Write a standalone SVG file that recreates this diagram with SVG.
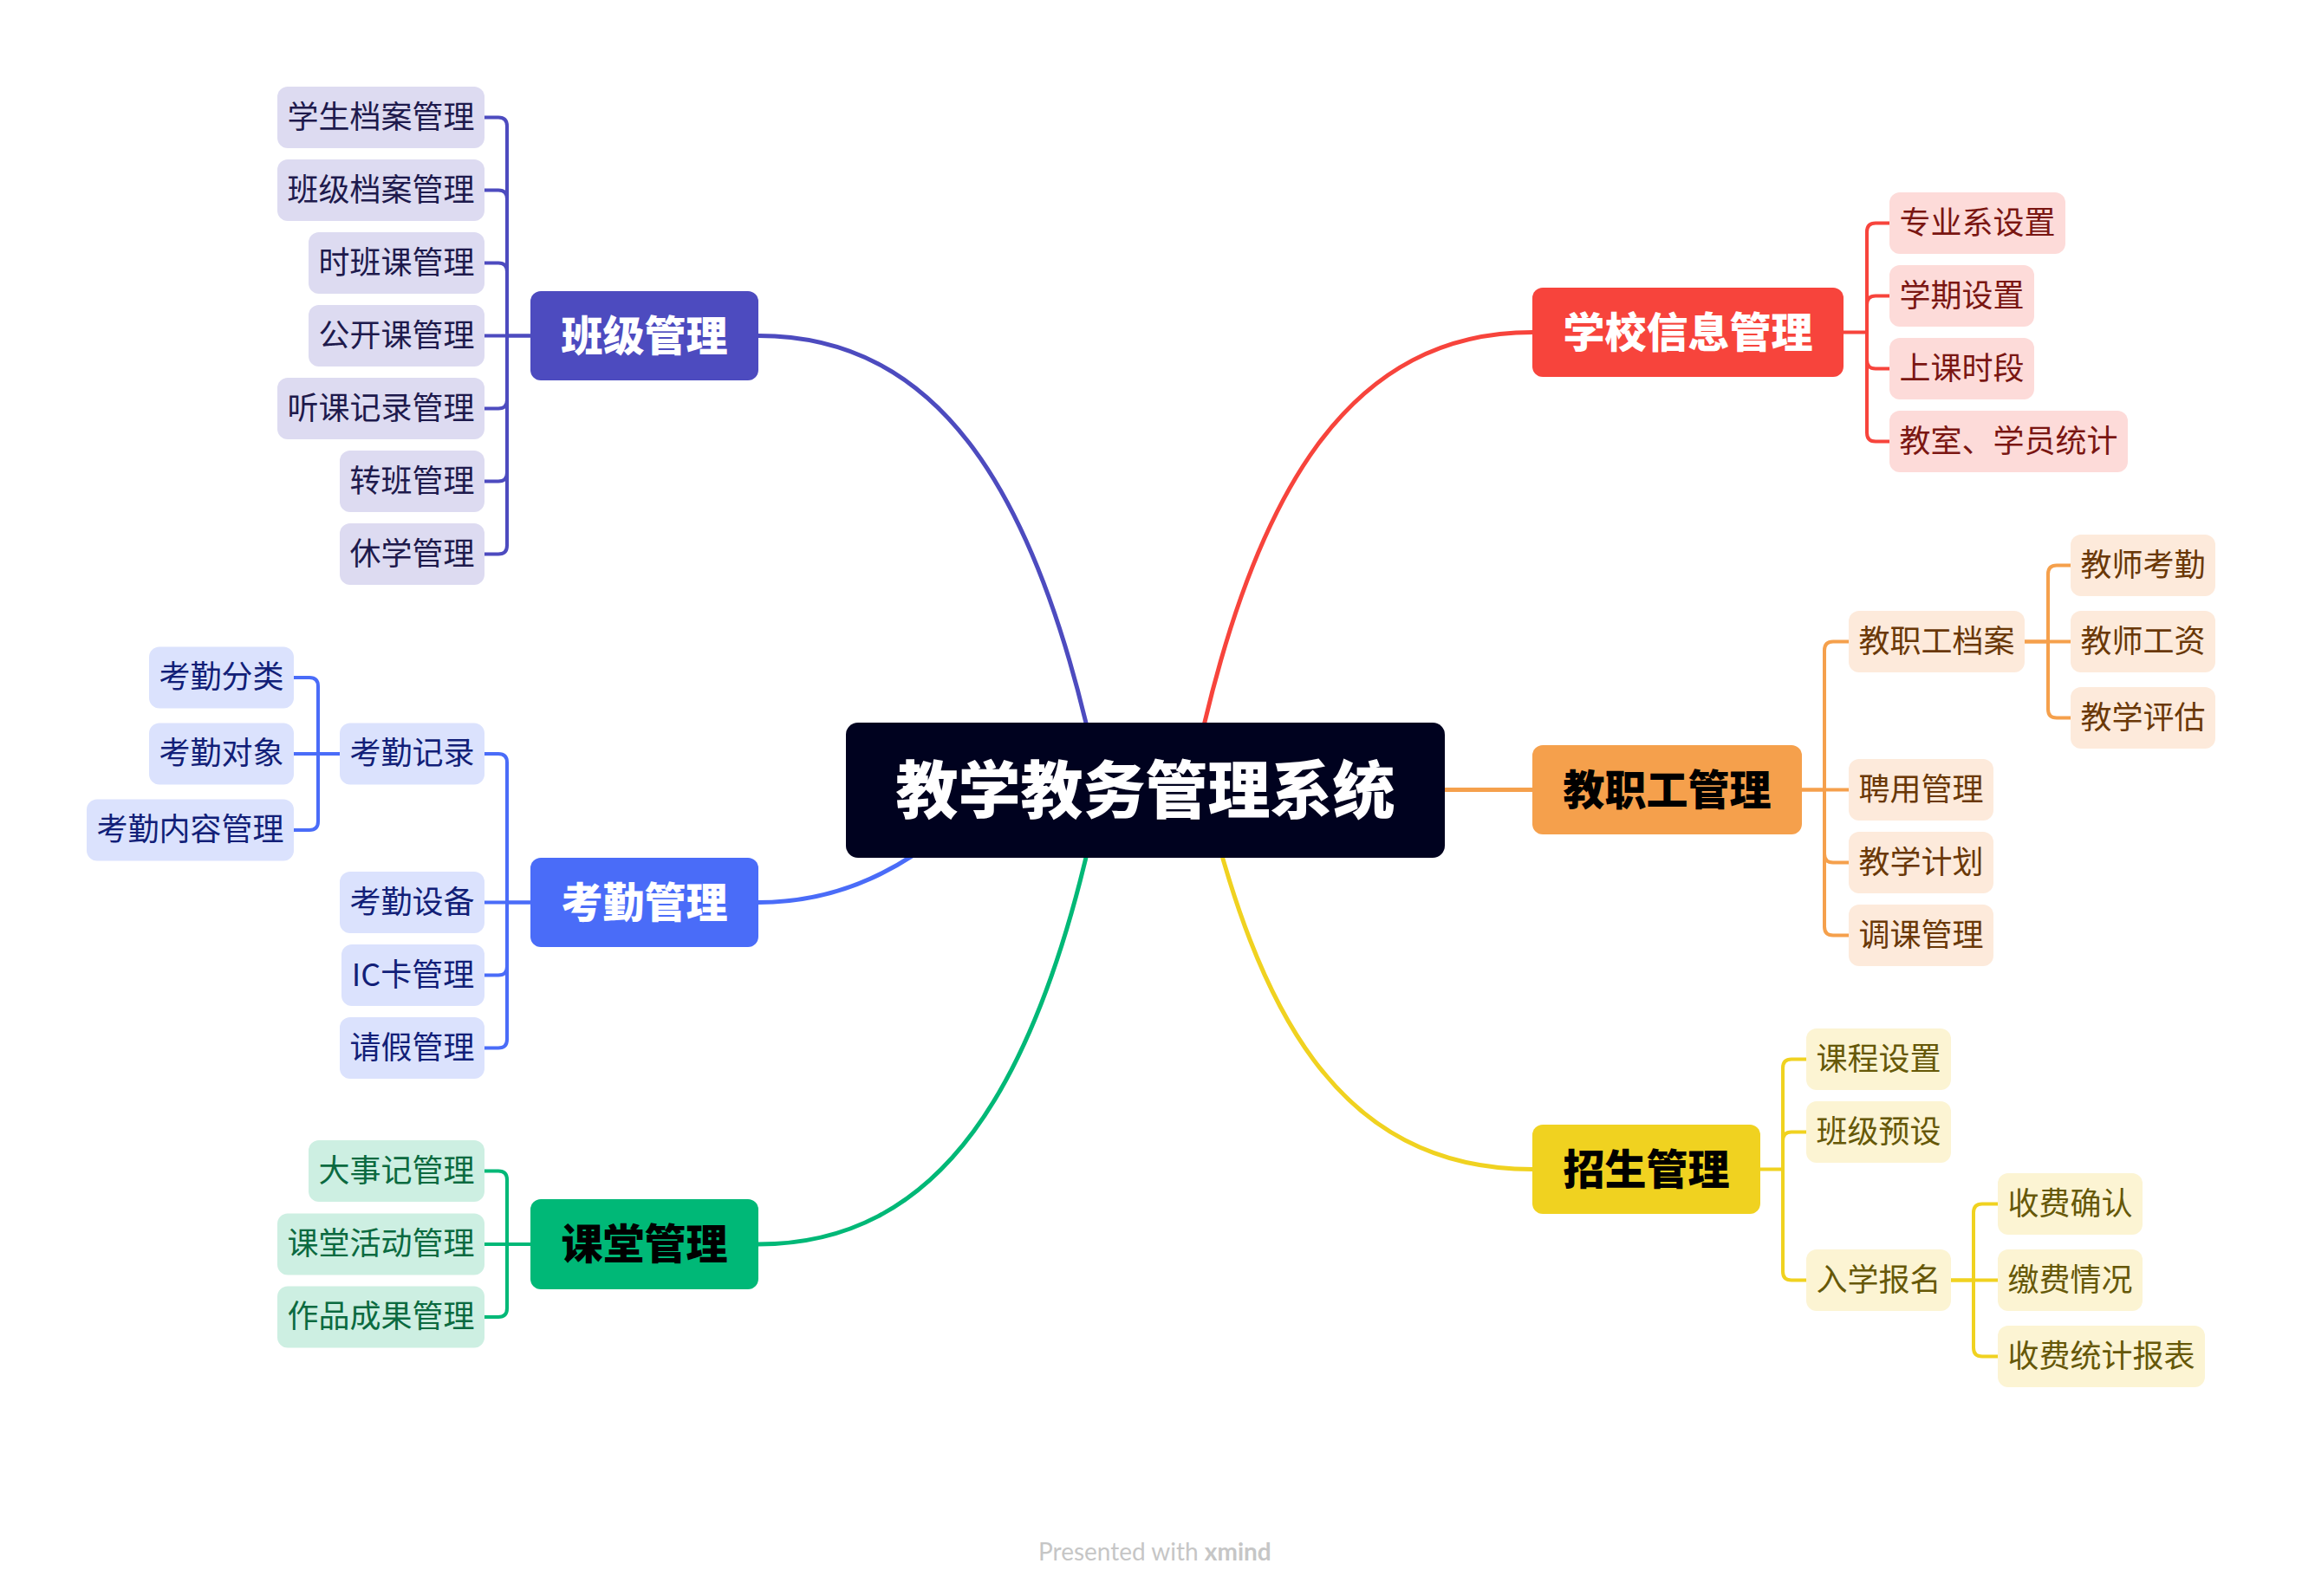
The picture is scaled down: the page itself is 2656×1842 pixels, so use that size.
<svg xmlns="http://www.w3.org/2000/svg" width="2656" height="1842" viewBox="0 0 2656 1842">
<style>
text{font-family:"Noto Sans CJK SC","Noto Sans",sans-serif;text-anchor:middle;dominant-baseline:central}
.root{font-size:72px;font-weight:900;fill:#fff;transform:translateY(-6px)}
.main{font-size:48px;font-weight:900;transform:translateY(-4px)}
.leaf{font-size:36px;transform:translateY(-4px)}
.c{fill:none;stroke-width:4;stroke-linecap:round;stroke-linejoin:round}
.curve{fill:none;stroke-width:5}
.ind{stroke:#4d4bbf}.blu{stroke:#4a6cf8}.grn{stroke:#00b877}.red{stroke:#f7443c}.org{stroke:#f5a04c}.yel{stroke:#f0d220}
.li rect{fill:#dddbf1}.li text{fill:#1e1a4c}
.lb rect{fill:#dbe2fd}.lb text{fill:#121f78}
.lg rect{fill:#cdefe2}.lg text{fill:#0b6a40}
.lr rect{fill:#fddbd9}.lr text{fill:#7a1612}
.lo rect{fill:#fdeadb}.lo text{fill:#6a3807}
.ly rect{fill:#fcf4d3}.ly text{fill:#665808}
.foot{font-family:Lato,"Open Sans",sans-serif;font-size:28px;fill:#c6c6c6;text-anchor:start;dominant-baseline:auto}
</style>
<rect width="2656" height="1842" fill="#ffffff"/>
<g id="connectors">
<path class="curve ind" d="M875 387.5 C1080 387.5 1200 560 1270 912"/>
<path class="curve grn" d="M875 1436 C1080 1436 1200 1264 1270 912"/>
<path class="curve red" d="M1768 383.5 C1563 383.5 1443 555 1373 912"/>
<path class="curve yel" d="M1768 1349.5 C1540 1349.5 1450 1160 1390 912"/>
<path class="curve blu" d="M875 1041.5 C960 1041.5 1030 1010 1090 960"/>
<path class="curve org" d="M1667 911.5 H1768"/>
<path class="c ind" d="M612 387.5 H585 V145.5 Q585 135.5 575 135.5 H559"/>
<path class="c ind" d="M585 387.5 V229.5 Q585 219.5 575 219.5 H559"/>
<path class="c ind" d="M585 387.5 V313.5 Q585 303.5 575 303.5 H559"/>
<path class="c ind" d="M612 387.5 H559"/>
<path class="c ind" d="M585 387.5 V461.5 Q585 471.5 575 471.5 H559"/>
<path class="c ind" d="M585 387.5 V545.5 Q585 555.5 575 555.5 H559"/>
<path class="c ind" d="M585 387.5 V629.5 Q585 639.5 575 639.5 H559"/>
<path class="c blu" d="M612 1041.5 H585 V880 Q585 870 575 870 H559"/>
<path class="c blu" d="M612 1041.5 H559"/>
<path class="c blu" d="M585 1041.5 V1115.5 Q585 1125.5 575 1125.5 H559"/>
<path class="c blu" d="M585 1041.5 V1199.5 Q585 1209.5 575 1209.5 H559"/>
<path class="c blu" d="M392 870 H367 V792 Q367 782 357 782 H339"/>
<path class="c blu" d="M392 870 H339"/>
<path class="c blu" d="M367 870 V948 Q367 958 357 958 H339"/>
<path class="c grn" d="M612 1436 H585 V1361.5 Q585 1351.5 575 1351.5 H559"/>
<path class="c grn" d="M612 1436 H559"/>
<path class="c grn" d="M585 1436 V1510 Q585 1520 575 1520 H559"/>
<path class="c red" d="M2127 383.5 H2154 V267.5 Q2154 257.5 2164 257.5 H2180"/>
<path class="c red" d="M2154 383.5 V351.5 Q2154 341.5 2164 341.5 H2180"/>
<path class="c red" d="M2154 383.5 V415.5 Q2154 425.5 2164 425.5 H2180"/>
<path class="c red" d="M2154 383.5 V499.5 Q2154 509.5 2164 509.5 H2180"/>
<path class="c org" d="M2079 911.5 H2105 V750.5 Q2105 740.5 2115 740.5 H2133"/>
<path class="c org" d="M2079 911.5 H2133"/>
<path class="c org" d="M2105 911.5 V985.5 Q2105 995.5 2115 995.5 H2133"/>
<path class="c org" d="M2105 911.5 V1069.5 Q2105 1079.5 2115 1079.5 H2133"/>
<path class="c org" d="M2336 740.5 H2363 V662.5 Q2363 652.5 2373 652.5 H2389"/>
<path class="c org" d="M2336 740.5 H2389"/>
<path class="c org" d="M2363 740.5 V818.5 Q2363 828.5 2373 828.5 H2389"/>
<path class="c yel" d="M2031 1349.5 H2057 V1232.5 Q2057 1222.5 2067 1222.5 H2084"/>
<path class="c yel" d="M2057 1349.5 V1316.5 Q2057 1306.5 2067 1306.5 H2084"/>
<path class="c yel" d="M2057 1349.5 V1467.5 Q2057 1477.5 2067 1477.5 H2084"/>
<path class="c yel" d="M2251 1477.5 H2277 V1399.5 Q2277 1389.5 2287 1389.5 H2305"/>
<path class="c yel" d="M2251 1477.5 H2305"/>
<path class="c yel" d="M2277 1477.5 V1555.5 Q2277 1565.5 2287 1565.5 H2305"/>
</g>

<g id="root"><rect x="976" y="834" width="691" height="156" rx="14" fill="#00021f"/><text class="root" x="1321.5" y="912">教学教务管理系统</text></g>

<g id="b-banji"><rect x="612" y="336" width="263" height="103" rx="12" fill="#4d4bbf"/><text class="main" x="743.5" y="387.5" fill="#ffffff">班级管理</text></g>
<g id="b-kaoqin"><rect x="612" y="990" width="263" height="103" rx="12" fill="#4a6cf8"/><text class="main" x="743.5" y="1041.5" fill="#ffffff">考勤管理</text></g>
<g id="b-ketang"><rect x="612" y="1384" width="263" height="104" rx="12" fill="#00b877"/><text class="main" x="743.5" y="1436" fill="#000000">课堂管理</text></g>
<g id="b-xuexiao"><rect x="1768" y="332" width="359" height="103" rx="12" fill="#f7443c"/><text class="main" x="1947.5" y="383.5" fill="#ffffff">学校信息管理</text></g>
<g id="b-jiaozhigong"><rect x="1768" y="860" width="311" height="103" rx="12" fill="#f5a04c"/><text class="main" x="1923.5" y="911.5" fill="#000000">教职工管理</text></g>
<g id="b-zhaosheng"><rect x="1768" y="1298" width="263" height="103" rx="12" fill="#f0d220"/><text class="main" x="1899.5" y="1349.5" fill="#000000">招生管理</text></g>

<g class="li">
<g id="n-xsda"><rect x="320" y="100" width="239" height="71" rx="12"/><text class="leaf" x="439.5" y="135.5">学生档案管理</text></g>
<g id="n-bjda"><rect x="320" y="184" width="239" height="71" rx="12"/><text class="leaf" x="439.5" y="219.5">班级档案管理</text></g>
<g id="n-sbk"><rect x="356" y="268" width="203" height="71" rx="12"/><text class="leaf" x="457.5" y="303.5">时班课管理</text></g>
<g id="n-gkk"><rect x="356" y="352" width="203" height="71" rx="12"/><text class="leaf" x="457.5" y="387.5">公开课管理</text></g>
<g id="n-tkjl"><rect x="320" y="436" width="239" height="71" rx="12"/><text class="leaf" x="439.5" y="471.5">听课记录管理</text></g>
<g id="n-zb"><rect x="392" y="520" width="167" height="71" rx="12"/><text class="leaf" x="475.5" y="555.5">转班管理</text></g>
<g id="n-xx"><rect x="392" y="604" width="167" height="71" rx="12"/><text class="leaf" x="475.5" y="639.5">休学管理</text></g>
</g>

<g class="lb">
<g id="n-kqjl"><rect x="392" y="834.5" width="167" height="71" rx="12"/><text class="leaf" x="475.5" y="870">考勤记录</text></g>
<g id="n-kqsb"><rect x="392" y="1006" width="167" height="71" rx="12"/><text class="leaf" x="475.5" y="1041.5">考勤设备</text></g>
<g id="n-ick"><rect x="394" y="1090" width="165" height="71" rx="12"/><text class="leaf" x="476.5" y="1125.5">IC卡管理</text></g>
<g id="n-qj"><rect x="392" y="1174" width="167" height="71" rx="12"/><text class="leaf" x="475.5" y="1209.5">请假管理</text></g>
<g id="n-kqfl"><rect x="172" y="746.5" width="167" height="71" rx="12"/><text class="leaf" x="255.5" y="782">考勤分类</text></g>
<g id="n-kqdx"><rect x="172" y="834.5" width="167" height="71" rx="12"/><text class="leaf" x="255.5" y="870">考勤对象</text></g>
<g id="n-kqnr"><rect x="100" y="922.5" width="239" height="71" rx="12"/><text class="leaf" x="219.5" y="958">考勤内容管理</text></g>
</g>

<g class="lg">
<g id="n-dsj"><rect x="356" y="1316" width="203" height="71" rx="12"/><text class="leaf" x="457.5" y="1351.5">大事记管理</text></g>
<g id="n-kthd"><rect x="320" y="1400.5" width="239" height="71" rx="12"/><text class="leaf" x="439.5" y="1436">课堂活动管理</text></g>
<g id="n-zpcg"><rect x="320" y="1484.5" width="239" height="71" rx="12"/><text class="leaf" x="439.5" y="1520">作品成果管理</text></g>
</g>

<g class="lr">
<g id="n-zyx"><rect x="2180" y="222" width="203" height="71" rx="12"/><text class="leaf" x="2281.5" y="257.5">专业系设置</text></g>
<g id="n-xq"><rect x="2180" y="306" width="167" height="71" rx="12"/><text class="leaf" x="2263.5" y="341.5">学期设置</text></g>
<g id="n-sksd"><rect x="2180" y="390" width="167" height="71" rx="12"/><text class="leaf" x="2263.5" y="425.5">上课时段</text></g>
<g id="n-jstj"><rect x="2180" y="474" width="275" height="71" rx="12"/><text class="leaf" x="2317.5" y="509.5">教室、学员统计</text></g>
</g>

<g class="lo">
<g id="n-jzgda"><rect x="2133" y="705" width="203" height="71" rx="12"/><text class="leaf" x="2234.5" y="740.5">教职工档案</text></g>
<g id="n-py"><rect x="2133" y="876" width="167" height="71" rx="12"/><text class="leaf" x="2216.5" y="911.5">聘用管理</text></g>
<g id="n-jxjh"><rect x="2133" y="960" width="167" height="71" rx="12"/><text class="leaf" x="2216.5" y="995.5">教学计划</text></g>
<g id="n-tk"><rect x="2133" y="1044" width="167" height="71" rx="12"/><text class="leaf" x="2216.5" y="1079.5">调课管理</text></g>
<g id="n-jskq"><rect x="2389" y="617" width="167" height="71" rx="12"/><text class="leaf" x="2472.5" y="652.5">教师考勤</text></g>
<g id="n-jsgz"><rect x="2389" y="705" width="167" height="71" rx="12"/><text class="leaf" x="2472.5" y="740.5">教师工资</text></g>
<g id="n-jxpg"><rect x="2389" y="793" width="167" height="71" rx="12"/><text class="leaf" x="2472.5" y="828.5">教学评估</text></g>
</g>

<g class="ly">
<g id="n-kcsz"><rect x="2084" y="1187" width="167" height="71" rx="12"/><text class="leaf" x="2167.5" y="1222.5">课程设置</text></g>
<g id="n-bjys"><rect x="2084" y="1271" width="167" height="71" rx="12"/><text class="leaf" x="2167.5" y="1306.5">班级预设</text></g>
<g id="n-rxbm"><rect x="2084" y="1442" width="167" height="71" rx="12"/><text class="leaf" x="2167.5" y="1477.5">入学报名</text></g>
<g id="n-sfqr"><rect x="2305" y="1354" width="167" height="71" rx="12"/><text class="leaf" x="2388.5" y="1389.5">收费确认</text></g>
<g id="n-jfqk"><rect x="2305" y="1442" width="167" height="71" rx="12"/><text class="leaf" x="2388.5" y="1477.5">缴费情况</text></g>
<g id="n-sftj"><rect x="2305" y="1530" width="239" height="71" rx="12"/><text class="leaf" x="2424.5" y="1565.5">收费统计报表</text></g>
</g>

<text class="foot" x="1198" y="1801">Presented with <tspan font-weight="700">xmind</tspan></text>
</svg>
